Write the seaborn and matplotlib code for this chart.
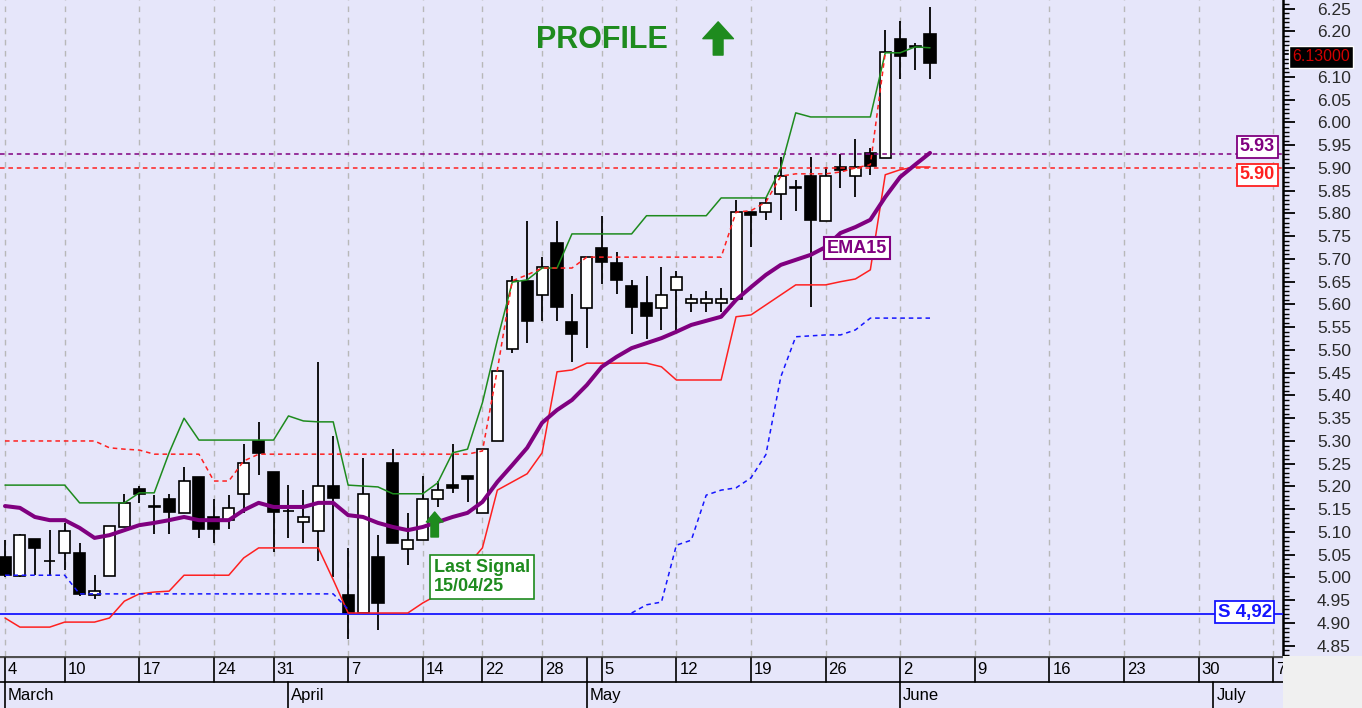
import numpy as np
import matplotlib
matplotlib.use("Agg")
import matplotlib.pyplot as plt
import seaborn as sns
from matplotlib.ticker import MultipleLocator, FuncFormatter
from matplotlib.patches import Rectangle
import matplotlib.transforms as mtransforms

# ---------------- data ----------------
opens = [5.045, 5.003, 5.085, 5.036, 5.054, 5.054, 4.962, 5.003, 5.111, 5.195,
         5.155, 5.173, 5.142, 5.221, 5.133, 5.126, 5.184, 5.300, 5.232, 5.146,
         5.122, 5.102, 5.201, 4.962, 4.922, 5.045, 5.252, 5.063, 5.082, 5.173,
         5.203, 5.223, 5.142, 5.300, 5.502, 5.652, 5.621, 5.735, 5.562, 5.592,
         5.724, 5.691, 5.641, 5.603, 5.592, 5.632, 5.603, 5.603, 5.603, 5.612,
         5.803, 5.803, 5.843, 5.856, 5.882, 5.784, 5.902, 5.882, 5.933, 5.922,
         6.184, 6.166, 6.195]
highs = [5.082, 5.095, 5.085, 5.104, 5.120, 5.076, 5.005, 5.113, 5.184, 5.201,
         5.181, 5.184, 5.243, 5.221, 5.173, 5.181, 5.293, 5.342, 5.232, 5.203,
         5.192, 5.474, 5.311, 5.065, 5.263, 5.093, 5.282, 5.142, 5.223, 5.212,
         5.293, 5.223, 5.282, 5.454, 5.663, 5.784, 5.704, 5.784, 5.623, 5.704,
         5.795, 5.715, 5.654, 5.663, 5.682, 5.674, 5.623, 5.630, 5.637, 5.830,
         5.803, 5.834, 5.924, 5.874, 5.924, 5.902, 5.931, 5.964, 5.944, 6.203,
         6.223, 6.175, 6.254]
lows = [5.001, 5.000, 5.005, 5.003, 5.016, 4.960, 4.953, 5.003, 5.111, 5.164,
        5.096, 5.096, 5.142, 5.087, 5.076, 5.107, 5.142, 5.225, 5.056, 5.087,
        5.076, 5.036, 5.001, 4.865, 4.922, 4.885, 5.076, 5.027, 5.082, 5.155,
        5.186, 5.166, 5.142, 5.300, 5.493, 5.515, 5.564, 5.564, 5.474, 5.504,
        5.645, 5.623, 5.535, 5.524, 5.544, 5.537, 5.584, 5.584, 5.584, 5.612,
        5.726, 5.786, 5.786, 5.805, 5.594, 5.784, 5.856, 5.836, 5.885, 5.922,
        6.096, 6.115, 6.096]
closes = [5.005, 5.093, 5.065, 5.036, 5.102, 4.964, 4.970, 5.113, 5.164, 5.184,
          5.155, 5.144, 5.212, 5.107, 5.107, 5.153, 5.252, 5.274, 5.144, 5.146,
          5.133, 5.201, 5.175, 4.922, 5.184, 4.944, 5.076, 5.082, 5.173, 5.192,
          5.197, 5.216, 5.282, 5.454, 5.652, 5.564, 5.682, 5.594, 5.535, 5.704,
          5.693, 5.654, 5.594, 5.575, 5.621, 5.660, 5.612, 5.612, 5.612, 5.803,
          5.797, 5.823, 5.882, 5.856, 5.786, 5.882, 5.896, 5.902, 5.904, 6.155,
          6.146, 6.166, 6.130]

ema15 = [5.157, 5.153, 5.133, 5.126, 5.126, 5.109, 5.087, 5.093, 5.104, 5.115,
         5.120, 5.126, 5.133, 5.126, 5.126, 5.126, 5.148, 5.164, 5.155, 5.155,
         5.155, 5.164, 5.164, 5.137, 5.133, 5.120, 5.111, 5.104, 5.111, 5.122,
         5.133, 5.142, 5.166, 5.210, 5.247, 5.285, 5.340, 5.368, 5.390, 5.423,
         5.463, 5.485, 5.504, 5.515, 5.526, 5.540, 5.555, 5.564, 5.573, 5.610,
         5.638, 5.665, 5.687, 5.698, 5.709, 5.726, 5.757, 5.770, 5.786, 5.836,
         5.880, 5.907, 5.933]

upper_band = [5.203, 5.203, 5.203, 5.203, 5.203, 5.164, 5.164, 5.164, 5.164, 5.186,
              5.186, 5.274, 5.350, 5.302, 5.302, 5.302, 5.302, 5.302, 5.302, 5.355,
              5.344, 5.342, 5.342, 5.203, 5.201, 5.199, 5.184, 5.184, 5.184, 5.208,
              5.274, 5.282, 5.384, 5.522, 5.649, 5.654, 5.680, 5.680, 5.755, 5.755,
              5.755, 5.755, 5.755, 5.795, 5.795, 5.795, 5.795, 5.795, 5.834, 5.834,
              5.834, 5.834, 5.900, 6.021, 6.012, 6.012, 6.012, 6.012, 6.012, 6.153,
              6.153, 6.166, 6.164]

lower_band = [4.911, 4.891, 4.891, 4.891, 4.902, 4.902, 4.902, 4.911, 4.948, 4.964,
              4.968, 4.970, 5.005, 5.005, 5.005, 5.005, 5.043, 5.065, 5.065, 5.065,
              5.065, 5.065, 4.995, 4.922, 4.922, 4.922, 4.922, 4.922, 4.944, 4.962,
              4.983, 5.027, 5.065, 5.192, 5.210, 5.228, 5.274, 5.452, 5.456, 5.471,
              5.471, 5.471, 5.471, 5.471, 5.463, 5.434, 5.434, 5.434, 5.434, 5.573,
              5.577, 5.599, 5.621, 5.643, 5.643, 5.643, 5.650, 5.656, 5.676, 5.885,
              5.896, 5.902, 5.902]

resist_line = [5.300, 5.300, 5.300, 5.300, 5.300, 5.300, 5.300, 5.285, 5.282, 5.280,
               5.271, 5.271, 5.271, 5.271, 5.212, 5.212, 5.256, 5.271, 5.271, 5.271,
               5.271, 5.271, 5.271, 5.271, 5.271, 5.271, 5.271, 5.271, 5.271, 5.271,
               5.271, 5.271, 5.278, 5.456, 5.652, 5.665, 5.680, 5.680, 5.680, 5.704,
               5.704, 5.704, 5.704, 5.704, 5.704, 5.704, 5.704, 5.704, 5.704, 5.803,
               5.806, 5.825, 5.882, 5.887, 5.887, 5.887, 5.891, 5.900, 5.907, 6.153]

stop_a_start = 0
stop_a = [5.005, 5.005, 5.005, 5.005, 5.005, 4.964, 4.964, 4.964, 4.964, 4.964,
          4.964, 4.964, 4.964, 4.964, 4.964, 4.964, 4.964, 4.964, 4.964, 4.964,
          4.964, 4.964, 4.964, 4.930]
stop_b_start = 42
stop_b = [4.922, 4.940, 4.946, 5.071, 5.082, 5.181, 5.192, 5.197, 5.219, 5.270,
          5.441, 5.529, 5.531, 5.533, 5.533, 5.544, 5.570, 5.570, 5.570, 5.570,
          5.570]

ema_level = 5.93
red_level = 5.90
support_level = 4.92
last_price = 6.13

week_idx = [0, 4, 9, 14, 18, 23, 28, 32, 36, 40, 45, 50, 55, 60, 65, 70, 75, 80, 85]
week_lbl = ['4', '10', '17', '24', '31', '7', '14', '22', '28', '5', '12', '19',
            '26', '2', '9', '16', '23', '30', '7']
month_idx = [0, 19, 39, 60, 81]
month_lbl = ['March', 'April', 'May', 'June', 'July']
signal_idx = 28.8

# ---------------- style ----------------
sns.set_theme(style="white")
plt.rcParams['font.family'] = ['Liberation Sans', 'DejaVu Sans']
BG = '#E6E6FA'
GREEN = '#1E8B1E'
PURPLE = '#800080'
RED = '#FF2020'
BLUE = '#1515FF'

W, H = 1362, 708
fig = plt.figure(figsize=(W / 100, H / 100), dpi=100, facecolor=BG)
axw = 1283 / W
axb = 52 / H
ax = fig.add_axes([0, axb, axw, 1 - axb])
ax.set_facecolor(BG)
xlim = (-0.335, 85.66)
ax.set_xlim(*xlim)
ax.set_ylim(4.8275, 6.269)

# vertical grid
for wi in week_idx:
    ax.axvline(wi, color='#B8B8B8', lw=1.0, ls=(0, (4, 4)), zorder=0.5)

# candles
x = np.arange(len(closes))
o = np.array(opens)
c = np.array(closes)
bottoms = np.minimum(o, c)
heights = np.maximum(np.abs(c - o), 0.0012)
fills = ['black' if cc < oo else 'white' for oo, cc in zip(o, c)]
ax.vlines(x, lows, highs, color='black', lw=1.3, zorder=2)
ax.bar(x, heights, bottom=bottoms, width=0.74, color=fills, edgecolor='black',
       linewidth=1.2, zorder=3)

# indicator lines
sns.lineplot(x=x, y=upper_band, ax=ax, color=GREEN, linewidth=1.1, zorder=5)
sns.lineplot(x=x, y=lower_band, ax=ax, color=RED, linewidth=1.1, zorder=5)
sns.lineplot(x=np.arange(len(resist_line)), y=resist_line, ax=ax, color=RED,
             linewidth=1.1, linestyle=(0, (3, 2.5)), zorder=5)
sns.lineplot(x=stop_a_start + np.arange(len(stop_a)), y=stop_a, ax=ax, color=BLUE,
             linewidth=1.1, linestyle=(0, (3, 2.5)), zorder=5)
sns.lineplot(x=stop_b_start + np.arange(len(stop_b)), y=stop_b, ax=ax, color=BLUE,
             linewidth=1.1, linestyle=(0, (3, 2.5)), zorder=5)
sns.lineplot(x=x, y=ema15, ax=ax, color=PURPLE, linewidth=2.9, zorder=6)

ax.axhline(ema_level, color=PURPLE, lw=1.1, ls=(0, (3, 2.5)), zorder=4)
ax.axhline(red_level, color=RED, lw=1.1, ls=(0, (3, 2.5)), zorder=4)
ax.axhline(support_level, color=BLUE, lw=1.3, zorder=4)


# right axis (the tick label hidden behind the last-price box in the reference is left blank)
def price_fmt(v, pos):
    if abs(v - last_price) < 0.025 and v > last_price:
        return ''
    return f'{v:.2f}'


ax.yaxis.tick_right()
ax.yaxis.set_major_locator(MultipleLocator(0.05))
ax.yaxis.set_minor_locator(MultipleLocator(0.01))
ax.yaxis.set_major_formatter(FuncFormatter(price_fmt))
ax.tick_params(axis='y', which='major', direction='out', length=8.5, width=1.3,
               colors='black', labelcolor='#2A2A2A', labelsize=12.5, pad=16)
ax.tick_params(axis='y', which='minor', direction='out', length=4.3, width=1.0,
               colors='black')
ax.tick_params(axis='x', which='both', bottom=False, labelbottom=False)
for s in ['top', 'left', 'bottom']:
    ax.spines[s].set_visible(False)
ax.spines['right'].set_color('black')
ax.spines['right'].set_linewidth(1.8)

# annotations
ax.text(40.0, 6.181, 'PROFILE', color=GREEN, fontsize=22, fontweight='bold',
        ha='center', va='center', zorder=8)
ax.annotate('', xy=(47.8, 6.221), xytext=(47.8, 6.148),
            arrowprops=dict(arrowstyle='simple,head_length=0.55,head_width=1.0,tail_width=0.32',
                            mutation_scale=22, color=GREEN, shrinkA=0, shrinkB=0), zorder=8)
ax.annotate('', xy=(signal_idx, 5.144), xytext=(signal_idx, 5.089),
            arrowprops=dict(arrowstyle='simple,head_length=0.6,head_width=1.0,tail_width=0.45',
                            mutation_scale=12, color=GREEN, shrinkA=0, shrinkB=0), zorder=8)
ax.text(28.76, 5.001, 'Last Signal\n15/04/25', color=GREEN, fontsize=13,
        fontweight='bold', ha='left', va='center', linespacing=1.15, zorder=9,
        bbox=dict(boxstyle='square,pad=0.2', fc='white', ec=GREEN, lw=1.2))
ax.text(57.1, 5.724, 'EMA15', color=PURPLE, fontsize=13, fontweight='bold',
        ha='center', va='center', zorder=9,
        bbox=dict(boxstyle='square,pad=0.15', fc='white', ec=PURPLE, lw=1.5))
ax.text(85.12, 5.946, f'{ema_level:.2f}', color=PURPLE, fontsize=13, fontweight='bold',
        ha='right', va='center', zorder=9,
        bbox=dict(boxstyle='square,pad=0.15', fc='white', ec=PURPLE, lw=1.3))
ax.text(85.12, 5.885, f'{red_level:.2f}', color=RED, fontsize=13, fontweight='bold',
        ha='right', va='center', zorder=9,
        bbox=dict(boxstyle='square,pad=0.15', fc='white', ec=RED, lw=1.3))
ax.text(84.9, 4.924, 'S ' + f'{support_level:.2f}'.replace('.', ','), color=BLUE,
        fontsize=13.5, fontweight='bold', ha='right', va='center', zorder=9,
        bbox=dict(boxstyle='square,pad=0.15', fc='white', ec=BLUE, lw=1.3))
trans = mtransforms.blended_transform_factory(ax.transAxes, ax.transData)
ax.text(1321 / 1283, 6.144, f'{last_price:.5f}', transform=trans, color='#D00000',
        fontsize=11.5, ha='center', va='center', zorder=10, clip_on=False,
        bbox=dict(boxstyle='square,pad=0.2', fc='black', ec='white', lw=1.0))

# date axis
axd = fig.add_axes([0, 0, axw, axb])
axd.set_facecolor(BG)
axd.set_xlim(*xlim)
axd.set_ylim(0, 1)
axd.set_xticks([])
axd.set_yticks([])
for s in axd.spines.values():
    s.set_visible(False)
axd.axhline(0.985, color='#505050', lw=1.6)
axd.axhline(0.5, color='black', lw=1.2)
for wi, lb in zip(week_idx, week_lbl):
    axd.plot([wi, wi], [0.5, 0.97], color='black', lw=1.2)
    axd.text(wi + 0.2, 0.74, lb, fontsize=12, ha='left', va='center', color='black',
             clip_on=True)
axd.plot([month_idx[2], month_idx[2]], [0.5, 0.97], color='black', lw=1.2)
for mi, lb in zip(month_idx, month_lbl):
    axd.plot([mi, mi], [0.0, 0.5], color='black', lw=1.2)
    axd.text(mi + 0.2, 0.24, lb, fontsize=12, ha='left', va='center', color='black',
             clip_on=True)

# grey corner bottom-right
fig.patches.append(Rectangle((axw, 0), 1 - axw, axb, transform=fig.transFigure,
                             facecolor='#F0F0F0', edgecolor='none', zorder=0))

fig.savefig('out.png', dpi=100, facecolor=BG)
